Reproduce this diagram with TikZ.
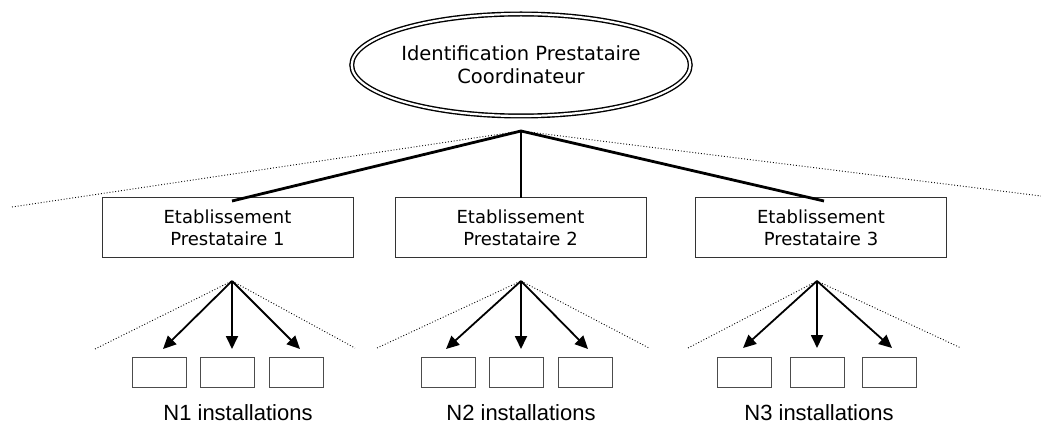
\documentclass[tikz,border=0pt]{standalone}
\usepackage{fontspec}
\setmainfont{DejaVu Sans}
\newfontfamily\labfont{Liberation Sans}
\usetikzlibrary{shapes.geometric,arrows.meta}
\begin{document}
\begin{tikzpicture}[x=1pt,y=-1pt,
  thick line/.style={line width=2.8pt},
  dotline/.style={line width=0.9pt,dotted},
  arr/.style={line width=1.8pt,-{Triangle[length=13pt,width=12pt]}},
  estab/.style={draw=black!80,line width=1pt,minimum width=251pt,minimum height=60pt,inner sep=0pt,align=center,font=\fontsize{18}{22}\selectfont},
  inst/.style={draw=black!70,line width=1pt,minimum width=54pt,minimum height=30pt,inner sep=0pt},
  lab/.style={font=\labfont\fontsize{22}{25}\selectfont}
]
\useasboundingbox (0,0) rectangle (1041,430);
\node[ellipse,draw,line width=1.4pt,double,double distance=2.2pt,minimum width=338pt,minimum height=102pt,inner sep=0pt,align=center,font=\fontsize{19.5}{23}\selectfont] (top) at (521,65) {Identification Prestataire\\Coordinateur};
\coordinate (apex) at (521,131);
\coordinate (dl) at (12,207);
\coordinate (dr) at (1041,196);
\node[estab] (e1) at (227.5,228) {Etablissement\\Prestataire 1};
\node[estab] (e2) at (520.5,228) {Etablissement\\Prestataire 2};
\node[estab] (e3) at (821,228) {Etablissement\\Prestataire 3};
\coordinate (t1) at (232,201);
\coordinate (t2) at (521,198);
\coordinate (t3) at (824,201);
\draw[dotline] (dl) -- (apex) -- (dr);
\draw[thick line] (t1) -- (apex) -- (t3);
\draw[thick line] (apex) -- (t2);
% group 1
\coordinate (a1) at (232,281);
\coordinate (l1) at (95,349);
\coordinate (r1) at (355,348);
\node[inst] (b11) at (159.5,372) {};
\node[inst] (b12) at (227.5,372) {};
\node[inst] (b13) at (296,372) {};
\coordinate (h11) at (163,349);
\coordinate (h12) at (232,349);
\coordinate (h13) at (300,349);
% group 2
\coordinate (a2) at (521,281);
\coordinate (l2) at (377,348);
\coordinate (r2) at (649,348);
\node[inst] (b21) at (448,372) {};
\node[inst] (b22) at (516.5,372) {};
\node[inst] (b23) at (585,372) {};
\coordinate (h21) at (446,349);
\coordinate (h22) at (521,349);
\coordinate (h23) at (588,349);
% group 3
\coordinate (a3) at (817,281);
\coordinate (l3) at (688,348);
\coordinate (r3) at (961,348);
\node[inst] (b31) at (744.5,372) {};
\node[inst] (b32) at (817,372) {};
\node[inst] (b33) at (889.5,372) {};
\coordinate (h31) at (743,348);
\coordinate (h32) at (817,348);
\coordinate (h33) at (892,348);
\foreach \g in {1,2,3}{
  \draw[dotline] (l\g) -- (a\g) -- (r\g);
  \foreach \k in {1,2,3}{
    \draw[arr] (a\g) -- (h\g\k);
  }
}
\node[lab] (n1) at (238,413) {N1 installations};
\node[lab] (n2) at (521,413) {N2 installations};
\node[lab] (n3) at (819,413) {N3 installations};
\end{tikzpicture}
\end{document}
